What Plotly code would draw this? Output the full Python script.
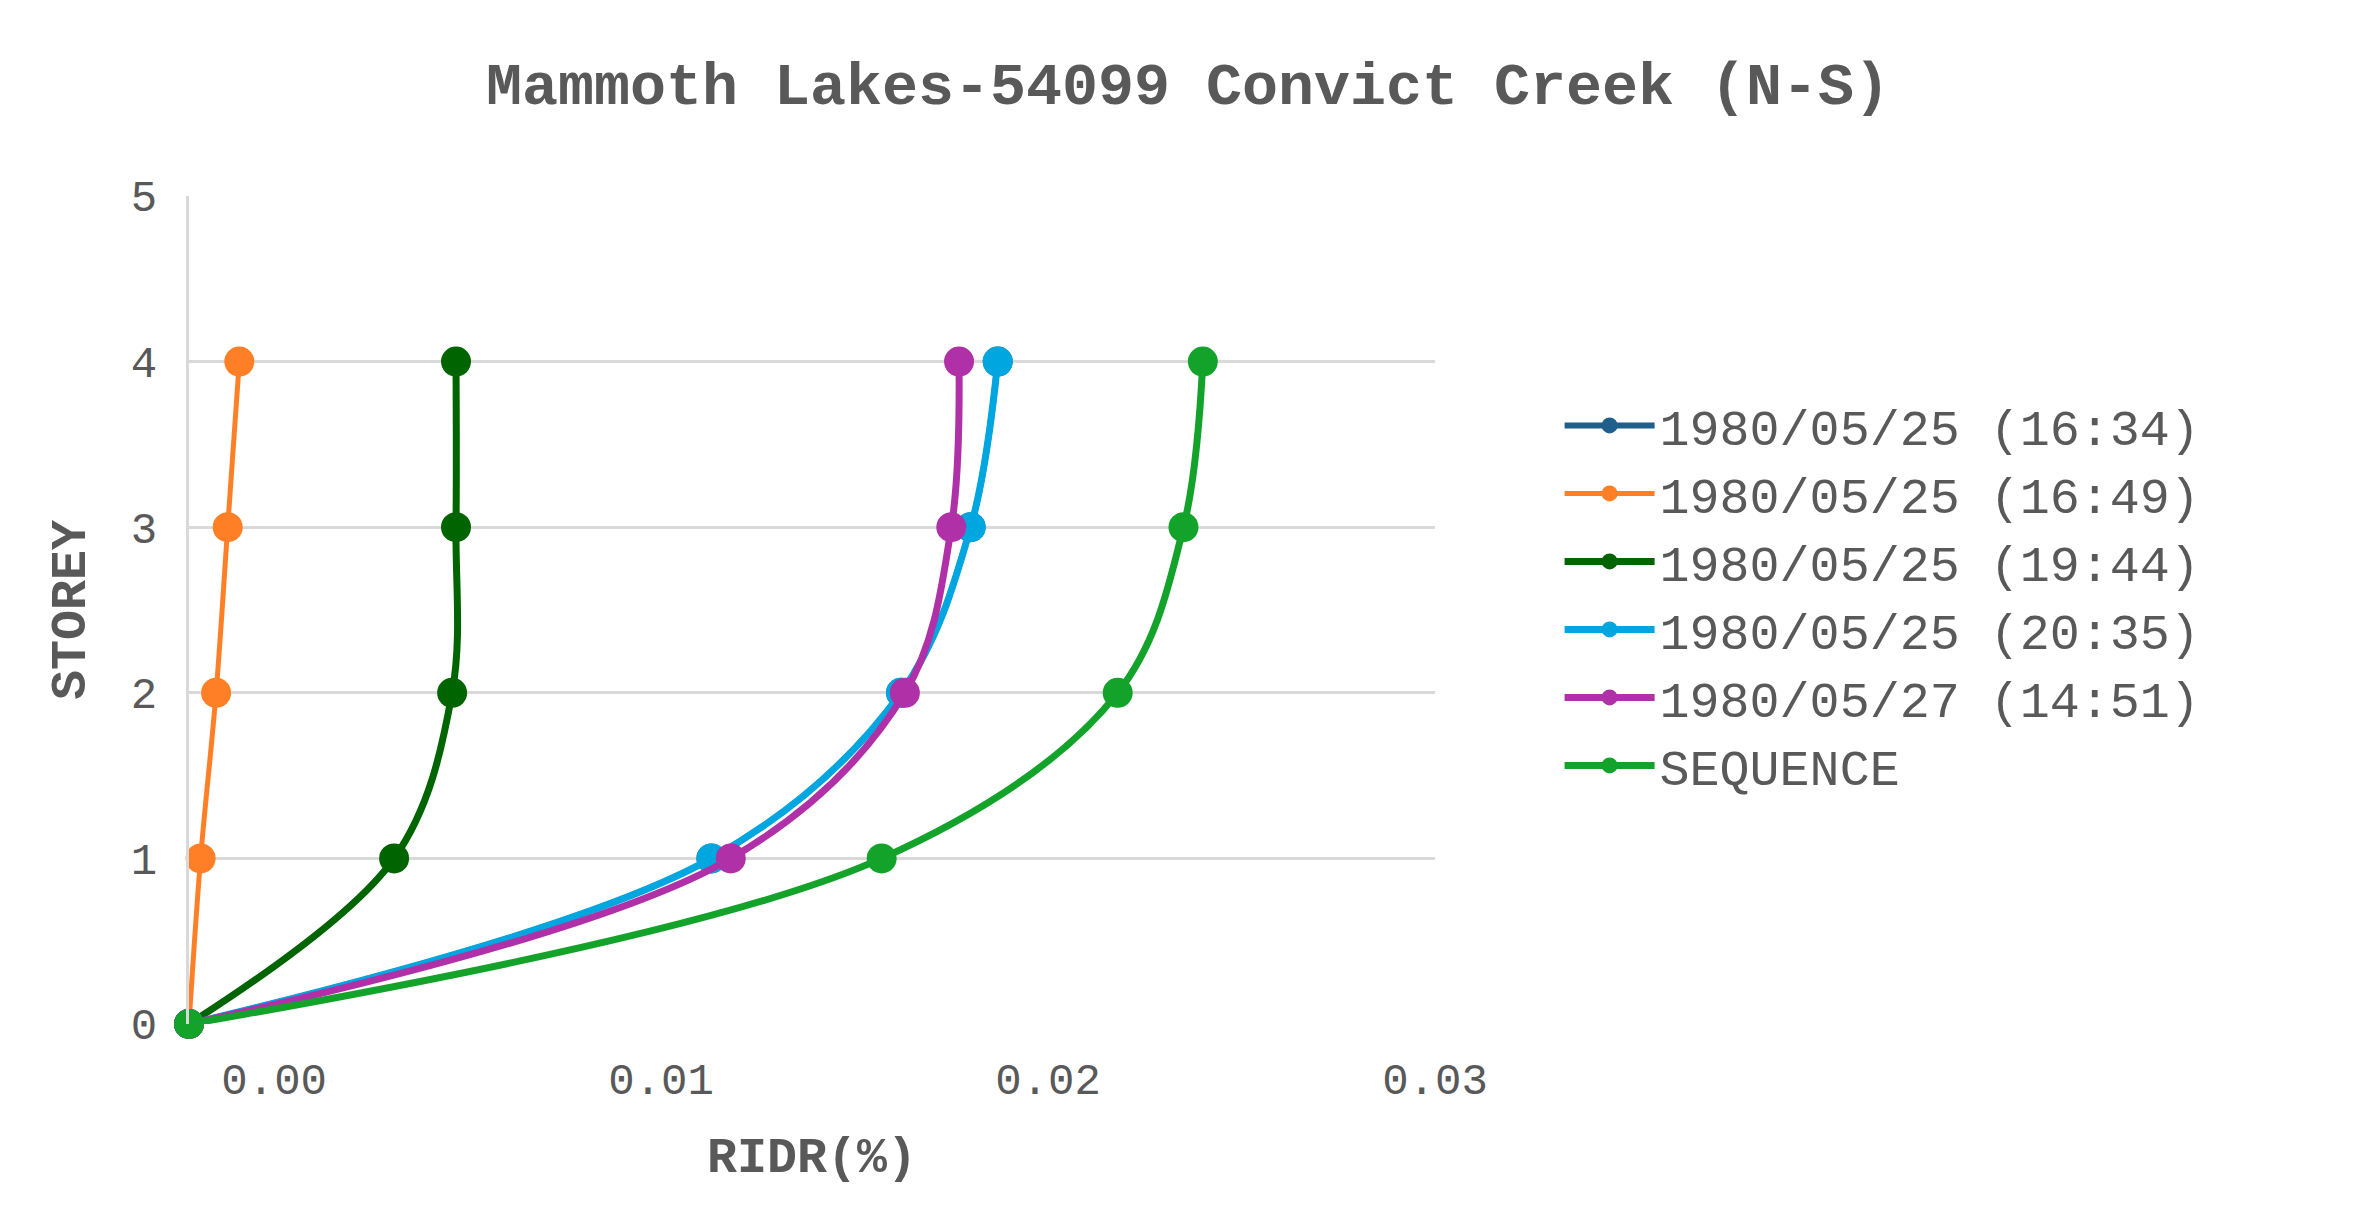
import plotly.graph_objects as go

storey = [0, 1, 2, 3, 4]
names = ["1980/05/25 (16:34)", "1980/05/25 (16:49)", "1980/05/25 (19:44)",
         "1980/05/25 (20:35)", "1980/05/27 (14:51)", "SEQUENCE"]
colors = ["#1f5f8b", "#ff7f27", "#006400", "#00a6e0", "#b030a8", "#14a32a"]
ridr = [
    [-0.0022, 0.0113, 0.0162, 0.0180, 0.0187],
    [-0.0022, -0.0019, -0.0015, -0.0012, -0.0009],
    [-0.0022, 0.0031, 0.0046, 0.0047, 0.0047],
    [-0.0022, 0.0113, 0.0162, 0.0180, 0.0187],
    [-0.0022, 0.0118, 0.0163, 0.0175, 0.0177],
    [-0.0022, 0.0157, 0.0218, 0.0235, 0.0240],
]
widths = [6, 5, 7, 7, 7, 7]

font = "Liberation Mono"
fig = go.Figure()
for n, c, x, w in zip(names, colors, ridr, widths):
    fig.add_trace(go.Scatter(x=x, y=storey, name=n, mode="lines+markers", cliponaxis=False,
                             line=dict(color=c, width=w, shape="spline"),
                             marker=dict(color=c, size=30)))

fig.update_layout(
    width=2360, height=1210, plot_bgcolor="white", paper_bgcolor="white",
    margin=dict(l=181, r=933, t=188, b=194),
    title=dict(text="<b>Mammoth Lakes-54099 Convict Creek (N-S)</b>", x=0.5, xanchor="center",
               y=0.955, font=dict(family=font, size=60, color="#595959")),
    font=dict(family=font, color="#595959"),
    legend=dict(x=1.1, y=0.77, yanchor="top", font=dict(size=50, color="#595959"),
                itemwidth=90, tracegroupgap=14),
)
fig.update_xaxes(range=[-0.0022, 0.03], tickvals=[0, 0.01, 0.02, 0.03], ticktext=["0.00", "0.01", "0.02", "0.03"],
                 showgrid=False, zeroline=False, showline=False, tickfont=dict(size=44),
                 title=dict(text="<b>RIDR(%)</b>", font=dict(size=50, color="#595959"), standoff=30),
                 ticklabelstandoff=25)
fig.update_yaxes(range=[0, 5], dtick=1, showgrid=True, gridcolor="#d9d9d9", gridwidth=3,
                 zeroline=False, showline=True, linecolor="#d9d9d9", linewidth=3, tickfont=dict(size=44),
                 title=dict(text="<b>STOREY</b>", font=dict(size=50, color="#595959"), standoff=30),
                 ticklabelstandoff=20)
fig.write_html("out.html")
